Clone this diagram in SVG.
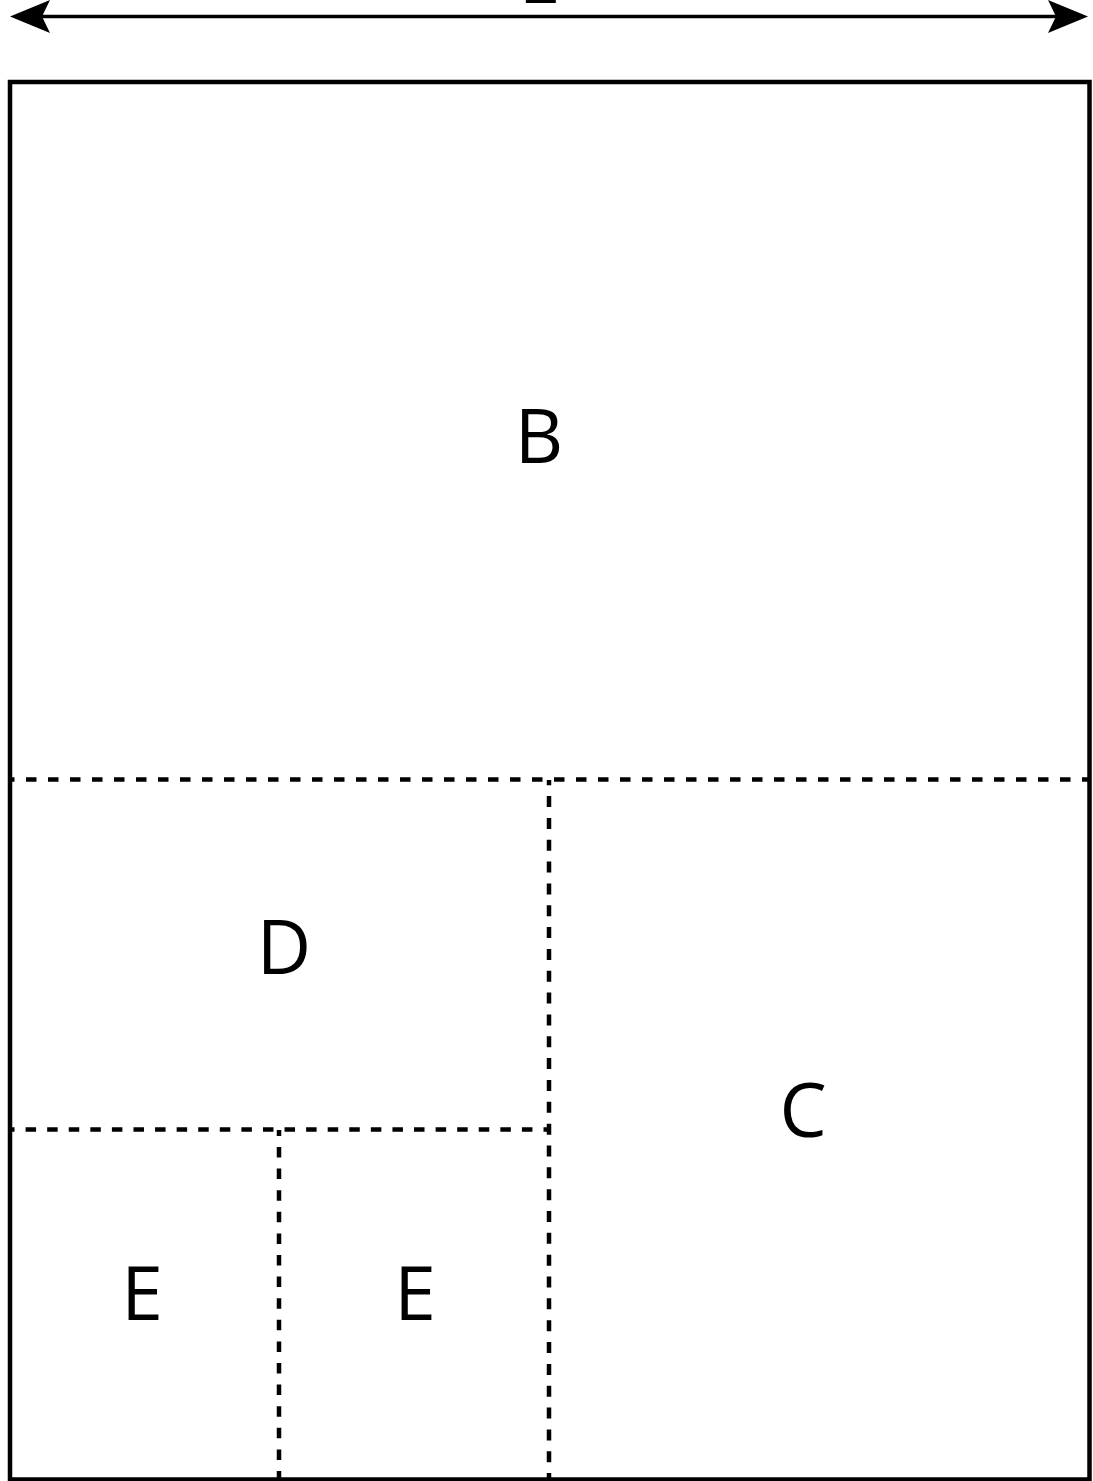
<svg xmlns="http://www.w3.org/2000/svg" width="1093" height="1481" viewBox="0 0 1093 1481">
  <style>
    .frame { fill: none; stroke: #000; stroke-width: 4.5; }
    .div { fill: none; stroke: #000; stroke-width: 4.5; }
    .dim { fill: none; stroke: #000; stroke-width: 3.3; }
    .lbl { font-family: "Open Sans", "Noto Sans", "Liberation Sans", sans-serif; font-size: 75px; fill: #000; text-anchor: middle; }
  </style>
  <defs>
    <marker id="arrow" markerUnits="userSpaceOnUse" viewBox="0 0 40 33" markerWidth="40" markerHeight="33" refX="30" refY="16.5" orient="auto-start-reverse">
      <path d="M0,0 L40,16.5 L0,33 L8,16.5 Z" fill="#000"/>
    </marker>
  </defs>
  <rect width="1093" height="1481" fill="#fff"/>

  <g id="dimension">
    <line class="dim" x1="20" y1="16.5" x2="1078" y2="16.5" marker-start="url(#arrow)" marker-end="url(#arrow)"/>
    <text class="lbl" x="538" y="3">L</text>
  </g>

  <g id="frame">
    <rect class="frame" x="10" y="82" width="1079.5" height="1397.5"/>
  </g>

  <g id="connectors">
    <line class="div" x1="10" y1="779.5" x2="1089.5" y2="779.5" stroke-dasharray="10.5 11.5" stroke-dashoffset="6"/>
    <line class="div" x1="549" y1="780" x2="549" y2="1479.5" stroke-dasharray="11 10.84" stroke-dashoffset="5.8"/>
    <line class="div" x1="10" y1="1129.5" x2="549" y2="1129.5" stroke-dasharray="10.5 11.08" stroke-dashoffset="6"/>
    <line class="div" x1="279" y1="1130" x2="279" y2="1479.5" stroke-dasharray="10.5 11.1" stroke-dashoffset="4.6"/>
  </g>

  <g id="node-B"><text class="lbl" x="539" y="463">B</text></g>
  <g id="node-D"><text class="lbl" x="284" y="974">D</text></g>
  <g id="node-C"><text class="lbl" x="803" y="1137">C</text></g>
  <g id="node-E1"><text class="lbl" x="142" y="1320">E</text></g>
  <g id="node-E2"><text class="lbl" x="415" y="1320">E</text></g>
</svg>
